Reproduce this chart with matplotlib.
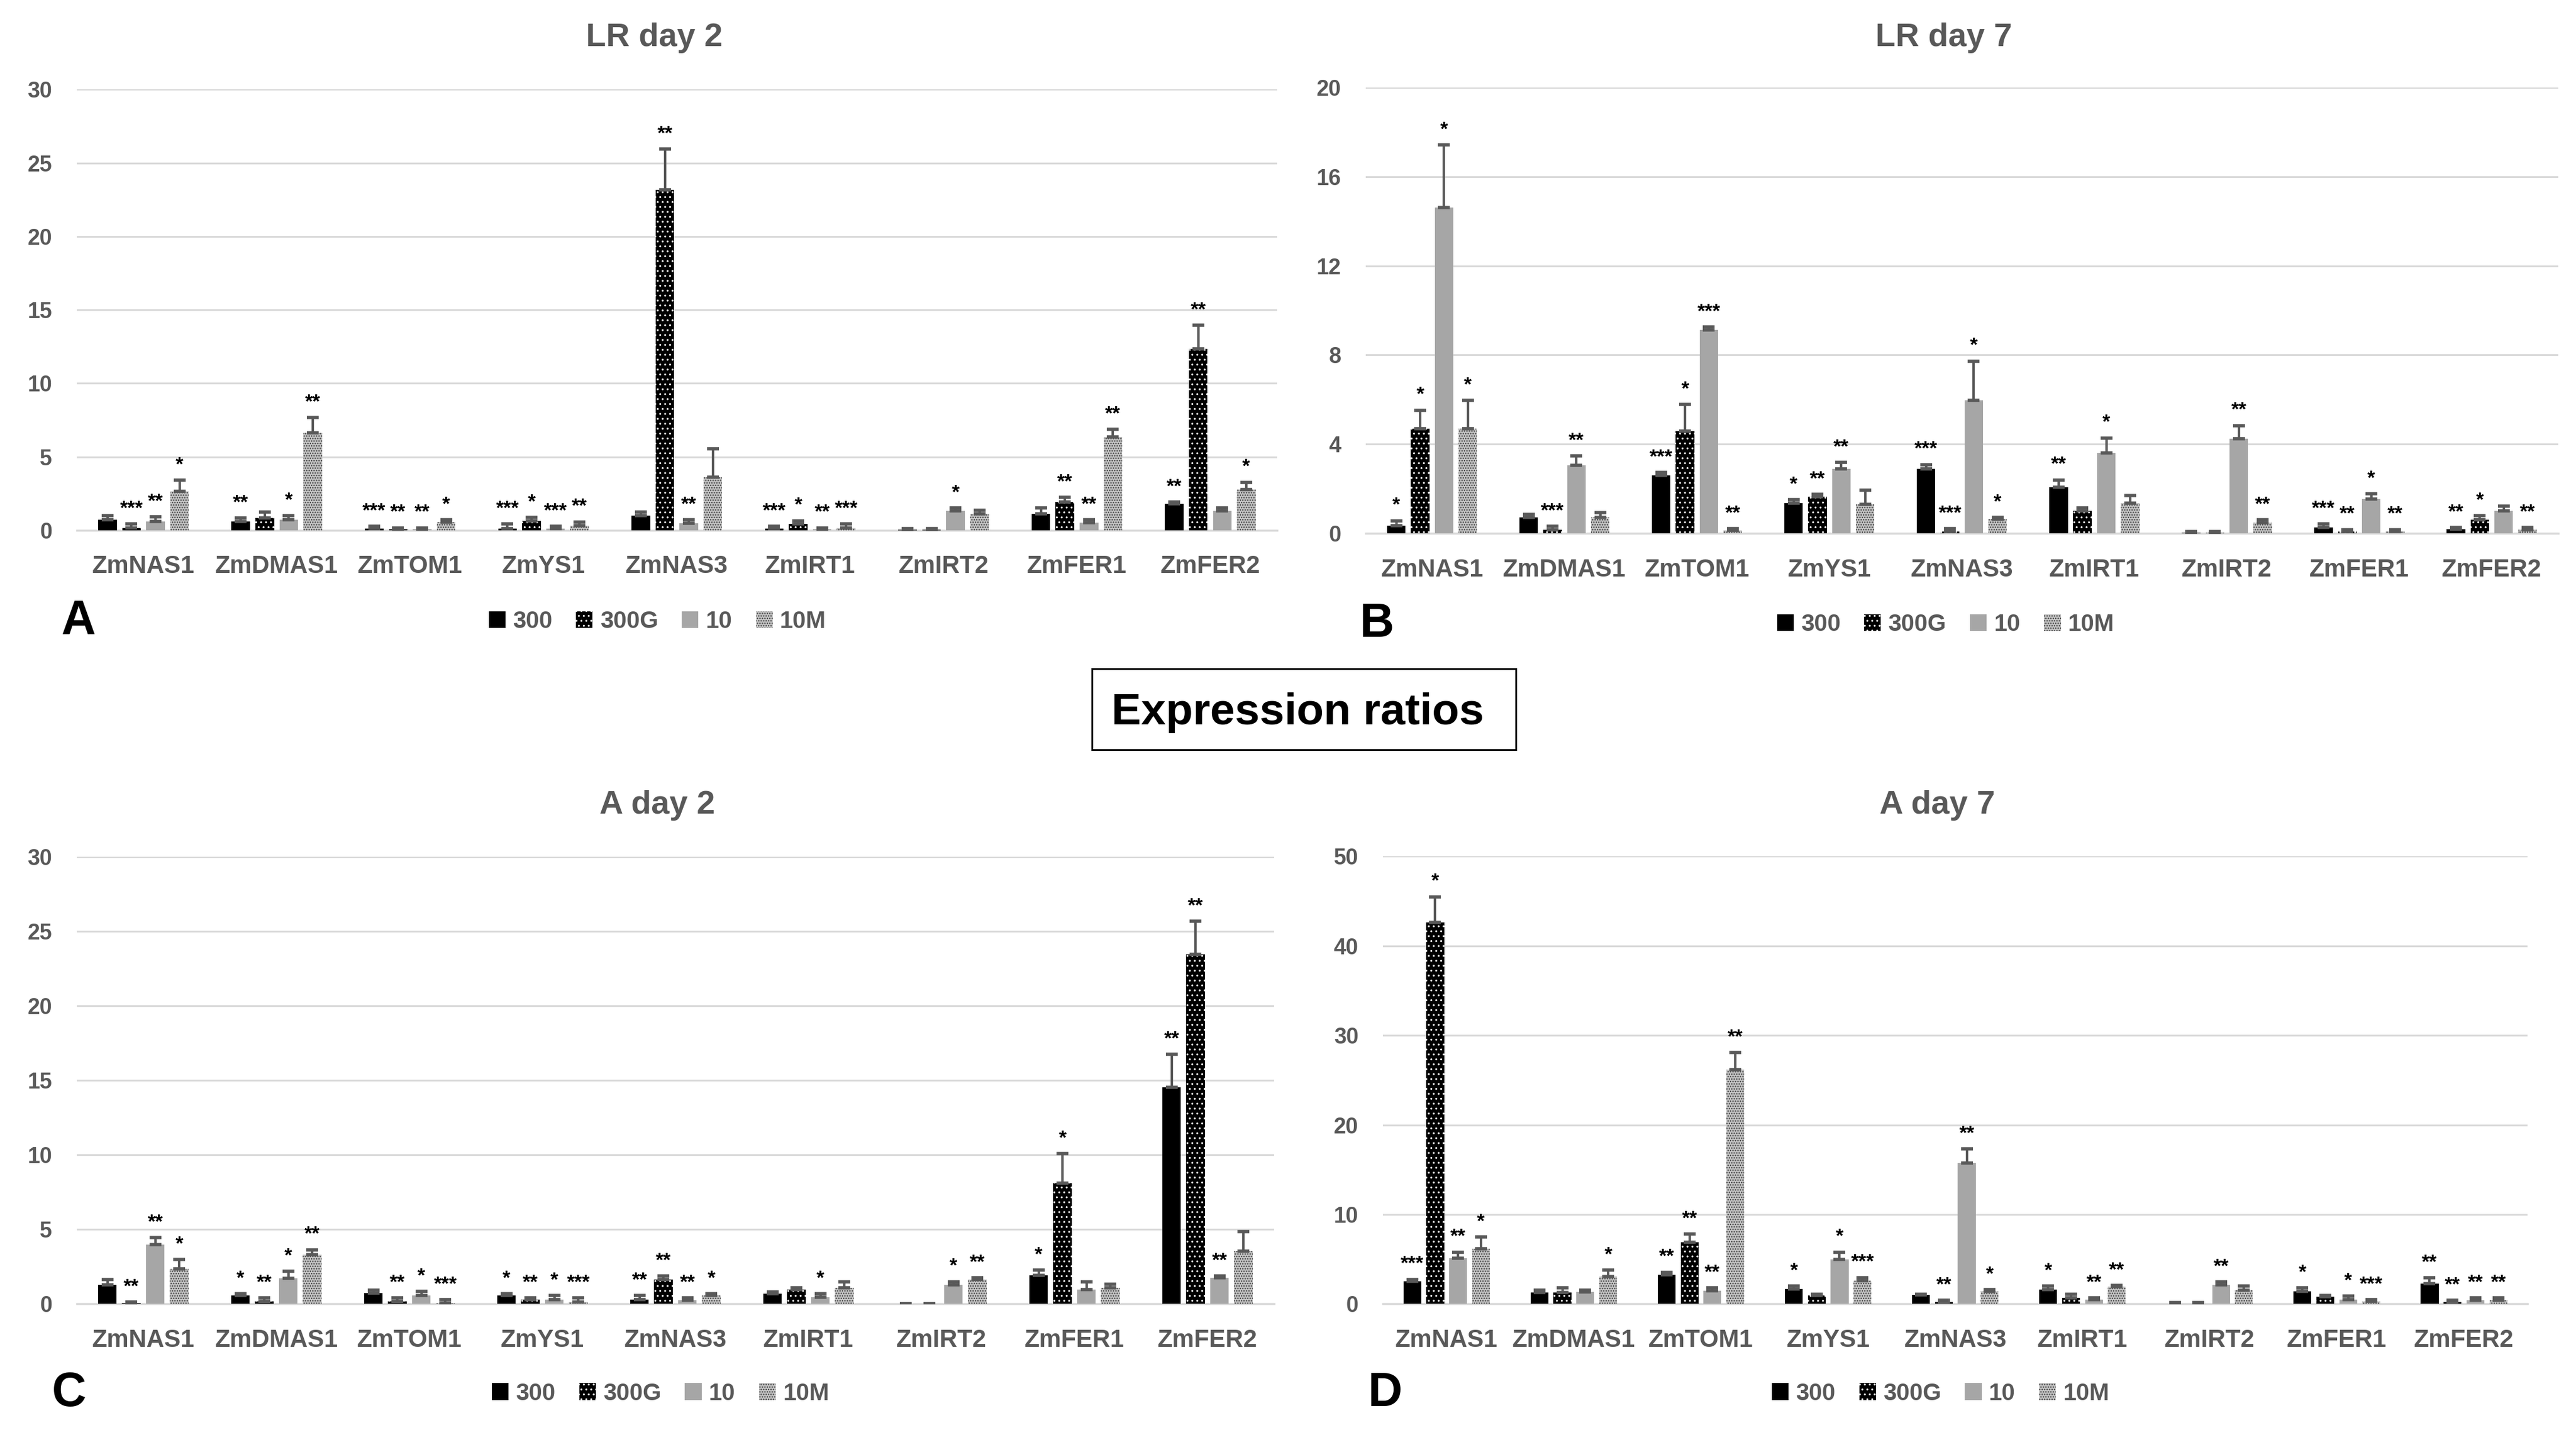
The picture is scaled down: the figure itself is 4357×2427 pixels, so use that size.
import matplotlib
matplotlib.use("Agg")
import matplotlib.pyplot as plt
import numpy as np
from matplotlib.patches import Patch, Rectangle

plt.rcParams["font.family"] = ["Liberation Sans", "DejaVu Sans"]
plt.rcParams["hatch.linewidth"] = 1.1

genes = ["ZmNAS1", "ZmDMAS1", "ZmTOM1", "ZmYS1", "ZmNAS3", "ZmIRT1", "ZmIRT2", "ZmFER1", "ZmFER2"]
series = ["300", "300G", "10", "10M"]

# LR day 2 (rows: 300, 300G, 10, 10M)
lr2_vals = [
    [0.72, 0.60, 0.10, 0.10, 0.98, 0.10, 0.03, 1.13, 1.79],
    [0.15, 0.83, 0.07, 0.65, 23.17, 0.44, 0.03, 1.92, 12.33],
    [0.60, 0.70, 0.07, 0.10, 0.48, 0.09, 1.31, 0.50, 1.31],
    [2.66, 6.65, 0.55, 0.30, 3.60, 0.17, 1.13, 6.37, 2.77],
]
lr2_errs = [
    [0.26, 0.23, 0.16, 0.34, 0.26, 0.18, 0.10, 0.40, 0.13],
    [0.29, 0.41, 0.10, 0.22, 2.77, 0.21, 0.10, 0.31, 1.63],
    [0.30, 0.28, 0.10, 0.18, 0.22, 0.08, 0.22, 0.22, 0.22],
    [0.74, 1.03, 0.17, 0.27, 1.96, 0.27, 0.24, 0.50, 0.50],
]
lr2_stars = [
    ["", "**", "***", "***", "", "***", "", "", "**"],
    ["***", "", "**", "*", "**", "*", "", "**", "**"],
    ["**", "*", "**", "***", "**", "**", "*", "**", ""],
    ["*", "**", "*", "**", "", "***", "", "**", "*"],
]

# LR day 7
lr7_vals = [
    [0.36, 0.72, 2.61, 1.36, 2.90, 2.08, 0.03, 0.26, 0.19],
    [4.70, 0.17, 4.60, 1.65, 0.07, 1.00, 0.03, 0.09, 0.62],
    [14.61, 3.06, 9.12, 2.90, 5.96, 3.62, 4.24, 1.54, 1.00],
    [4.70, 0.72, 0.14, 1.29, 0.65, 1.36, 0.47, 0.07, 0.17],
]
lr7_errs = [
    [0.21, 0.14, 0.12, 0.15, 0.19, 0.32, 0.04, 0.17, 0.07],
    [0.83, 0.15, 1.19, 0.10, 0.15, 0.15, 0.04, 0.08, 0.17],
    [2.82, 0.42, 0.13, 0.29, 1.77, 0.66, 0.60, 0.23, 0.22],
    [1.26, 0.21, 0.08, 0.65, 0.07, 0.34, 0.15, 0.10, 0.09],
]
lr7_stars = [
    ["*", "", "***", "*", "***", "**", "", "***", "**"],
    ["*", "***", "*", "**", "***", "", "", "**", "*"],
    ["*", "**", "***", "**", "*", "*", "**", "*", ""],
    ["*", "", "**", "", "*", "", "**", "**", "**"],
]

# A day 2
a2_vals = [
    [1.25, 0.57, 0.73, 0.57, 0.27, 0.68, 0.0, 1.91, 14.51],
    [0.05, 0.16, 0.16, 0.27, 1.64, 0.96, 0.0, 8.09, 23.44],
    [3.96, 1.69, 0.57, 0.27, 0.23, 0.43, 1.25, 0.96, 1.75],
    [2.32, 3.28, 0.05, 0.11, 0.55, 1.07, 1.64, 1.07, 3.53],
]
a2_errs = [
    [0.39, 0.11, 0.18, 0.11, 0.28, 0.12, 0.0, 0.35, 2.23],
    [0.06, 0.23, 0.23, 0.12, 0.23, 0.11, 0.0, 1.98, 2.23],
    [0.48, 0.47, 0.27, 0.28, 0.16, 0.25, 0.23, 0.52, 0.12],
    [0.64, 0.34, 0.22, 0.28, 0.13, 0.41, 0.11, 0.23, 1.30],
]
a2_stars = [
    ["", "*", "", "*", "**", "", "", "*", "**"],
    ["**", "**", "**", "**", "**", "", "", "*", "**"],
    ["**", "*", "*", "*", "**", "*", "*", "", "**"],
    ["*", "**", "***", "***", "*", "", "**", "", ""],
]

# A day 7
a7_vals = [
    [2.56, 1.28, 3.28, 1.68, 1.00, 1.60, 0.05, 1.40, 2.28],
    [42.60, 1.28, 6.88, 0.96, 0.20, 0.72, 0.05, 0.80, 0.20],
    [5.08, 1.36, 1.48, 5.00, 15.75, 0.48, 2.12, 0.48, 0.40],
    [6.16, 3.08, 26.20, 2.60, 1.40, 1.92, 1.52, 0.32, 0.40],
]
a7_errs = [
    [0.20, 0.28, 0.28, 0.32, 0.10, 0.40, 0.10, 0.40, 0.64],
    [2.88, 0.52, 0.92, 0.12, 0.20, 0.36, 0.10, 0.12, 0.20],
    [0.72, 0.20, 0.32, 0.80, 1.55, 0.20, 0.36, 0.40, 0.28],
    [1.32, 0.72, 1.88, 0.36, 0.20, 0.16, 0.48, 0.16, 0.28],
]
a7_stars = [
    ["***", "", "**", "*", "", "*", "", "*", "**"],
    ["*", "", "**", "", "**", "", "", "", "**"],
    ["**", "", "**", "*", "**", "**", "**", "*", "**"],
    ["*", "*", "**", "***", "*", "**", "", "***", "**"],
]

GREY_TXT = "#595959"
ERR_COLOR = "#595959"
GRID = "#d9d9d9"
STYLES = [
    dict(facecolor="black", edgecolor="black", hatch=None),
    dict(facecolor="black", edgecolor="white", hatch=".."),
    dict(facecolor="#a6a6a6", edgecolor="#a6a6a6", hatch=None),
    dict(facecolor="#c4c4c4", edgecolor="#404040", hatch="...."),
]
STEP = 0.18
WIDTH = 0.14


def draw_panel(ax, vals, errs, stars, ymax, ystep):
    x = np.arange(len(genes))
    for i in range(len(series)):
        xi = x + (i - 1.5) * STEP
        v = np.array(vals[i])
        e = np.array(errs[i])
        ax.bar(xi, v, WIDTH, linewidth=0, zorder=3, **STYLES[i])
        ax.errorbar(xi, v, yerr=[np.zeros_like(e), e], fmt="none", ecolor=ERR_COLOR,
                    elinewidth=3, capsize=7, capthick=4, zorder=4)
        for xx, top, lab in zip(xi, v + e, stars[i]):
            if lab:
                ax.annotate(lab, (xx, top), xytext=(0, 12), textcoords="offset points",
                            ha="center", va="baseline", fontsize=24, fontweight="bold",
                            color="black", zorder=5)
    ax.set_xlim(-0.5, len(genes) - 0.5)
    ax.set_ylim(0, ymax)
    ax.set_yticks(np.arange(0, ymax + 0.01, ystep))
    ax.yaxis.grid(True, color=GRID, linewidth=2.2)
    ax.set_axisbelow(True)
    for side in ["top", "right", "left"]:
        ax.spines[side].set_visible(False)
    ax.spines["bottom"].set_color(GRID)
    ax.spines["bottom"].set_linewidth(2.5)
    ax.set_xticks(x)
    ax.set_xticklabels(genes, fontsize=30, fontweight="bold", color=GREY_TXT)
    ax.tick_params(axis="x", length=0, pad=30)
    ax.tick_params(axis="y", length=0, pad=30, labelsize=27, labelcolor=GREY_TXT)
    for lab in ax.get_yticklabels():
        lab.set_fontweight("bold")


fig = plt.figure(figsize=(43.57, 24.27), dpi=100)

ax_a = fig.add_axes([0.0298, 0.6305, 0.4659, 0.3071])
ax_b = fig.add_axes([0.5302, 0.6283, 0.4628, 0.3108])
ax_c = fig.add_axes([0.0298, 0.0915, 0.4648, 0.3115])
ax_d = fig.add_axes([0.5369, 0.0913, 0.4443, 0.3120])

draw_panel(ax_a, lr2_vals, lr2_errs, lr2_stars, 30, 5)
draw_panel(ax_b, lr7_vals, lr7_errs, lr7_stars, 20, 4)
draw_panel(ax_c, a2_vals, a2_errs, a2_stars, 30, 5)
draw_panel(ax_d, a7_vals, a7_errs, a7_stars, 50, 10)

titles = [("LR day 2", 0.2540, 0.9679), ("LR day 7", 0.7546, 0.9679),
          ("A day 2", 0.2552, 0.4330), ("A day 7", 0.7520, 0.4330)]
for text, tx, ty in titles:
    fig.text(tx, ty, text, ha="center", va="baseline", fontsize=40,
             fontweight="bold", color=GREY_TXT)

letters = [("A", 0.0306, 0.567), ("B", 0.5345, 0.565), ("C", 0.0268, 0.029), ("D", 0.5377, 0.029)]
for text, lx, ly in letters:
    fig.text(lx, ly, text, ha="center", va="center", fontsize=58, fontweight="bold", color="black")

handles = [Patch(linewidth=0, **STYLES[i]) for i in range(len(series))]
legend_pos = [(0.2552, 0.567), (0.7553, 0.565), (0.2564, 0.029), (0.7533, 0.029)]
for lx, ly in legend_pos:
    leg = fig.legend(handles, series, loc="center", bbox_to_anchor=(lx, ly), ncol=4,
                     frameon=False, fontsize=29, handlelength=0.7, handleheight=0.7,
                     handletextpad=0.3, columnspacing=1.0)
    for t in leg.get_texts():
        t.set_color(GREY_TXT)
        t.set_fontweight("bold")

fig.patches.append(Rectangle((0.4239, 0.4775), 0.1646, 0.0564, transform=fig.transFigure,
                             fill=False, edgecolor="black", linewidth=2.2))
fig.text(0.5038, 0.4953, "Expression ratios", ha="center", va="baseline",
         fontsize=54, fontweight="bold", color="black")

fig.savefig("out.png", dpi=100, facecolor="white")
